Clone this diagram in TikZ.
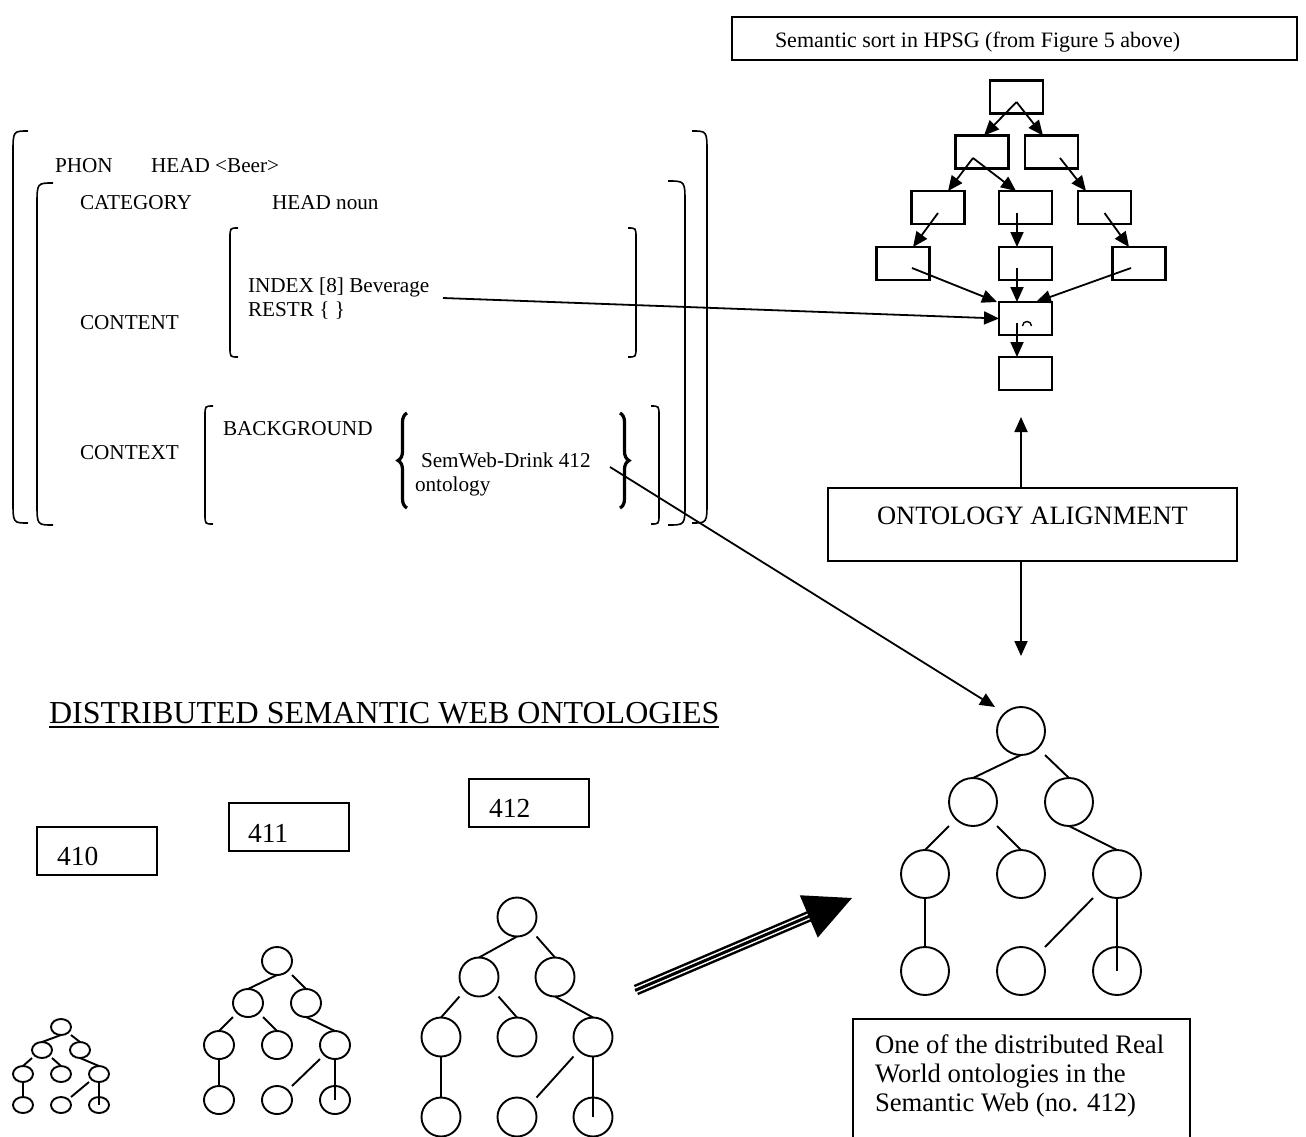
\documentclass[tikz,border=0pt]{standalone}
\usepackage{fontspec}
\setmainfont{Liberation Serif}
\usetikzlibrary{arrows.meta,calc,shapes.geometric,decorations.pathreplacing}

% tree: #1 prefix, #2 #3 root centre, #4 column step, #5 #6 #7 row offsets, #8 #9 radii
\newcommand{\ontree}[9]{%
 \begin{scope}[shift={(#2,#3)}]
  \tikzset{tsize/.style={tnode, minimum width={2*#8pt}, minimum height={2*#9pt}}}
  \node[tsize] (#1r) at (0,0) {};
  \node[tsize] (#1a) at (-#4,#5) {};
  \node[tsize] (#1b) at (#4,#5) {};
  \node[tsize] (#1c) at (-2*#4,#6) {};
  \node[tsize] (#1d) at (0,#6) {};
  \node[tsize] (#1e) at (2*#4,#6) {};
  \node[tsize] (#1f) at (-2*#4,#7) {};
  \node[tsize] (#1g) at (0,#7) {};
  \node[tsize] (#1h) at (2*#4,#7) {};
  \draw[tline] (#1r.south) -- (#1a.north);
  \draw[tline] ([xshift=#8pt]#1r.south) -- (#1b.north);
  \draw[tline] ([xshift=-#8pt]#1a.south) -- (#1c.north);
  \draw[tline] ([xshift=#8pt]#1a.south) -- (#1d.north);
  \draw[tline] (#1b.south) -- (#1e.north);
  \draw[tline] (#1c.south) -- (#1f.north);
  \draw[tline] ([xshift=-#8pt]#1e.south) -- ([xshift=#8pt]#1g.north);
  \draw[tline] (#1e.south) -- (#1h.center);
 \end{scope}}

% AVM brackets: #1 x, #2 top, #3 bottom, #4 hook width, #5 hook height
\newcommand{\avmL}[5]{\draw[brk] (#1+#4,#2) .. controls (#1,#2) .. (#1,#2+#5) -- (#1,#3-#5) .. controls (#1,#3) .. (#1+#4,#3);}
\newcommand{\avmR}[5]{\draw[brk] (#1-#4,#2) .. controls (#1,#2) .. (#1,#2+#5) -- (#1,#3-#5) .. controls (#1,#3) .. (#1-#4,#3);}

\begin{document}
\begin{tikzpicture}[x=1pt,y=-1pt,
  every node/.style={inner sep=0pt, outer sep=0pt},
  avm/.style={anchor=base west, font=\fontsize{21.2}{25}\selectfont},
  big/.style={anchor=base west, font=\fontsize{27.5}{31}\selectfont},
  desctext/.style={anchor=base west, font=\fontsize{26.7}{30}\selectfont},
  boxed/.style={draw, line width=2.1pt},
  sortbox/.style={draw, line width=2.1pt, minimum width=53pt, minimum height=33pt},
  arr/.style={line width=1.8pt, -{Triangle[length=15pt,width=13pt]}},
  tnode/.style={draw, ellipse, line width=1.9pt},
  tline/.style={line width=1.9pt},
  brk/.style={line width=1.6pt},
  curly/.style={line width=3.2pt, decorate, decoration={brace, amplitude=9pt}}]

\fill[white] (0,0) rectangle (1306,1136);
\path[use as bounding box, clip] (0,0) rectangle (1306,1136);

% ---------- title box ----------
\node[boxed, minimum width=565pt, minimum height=43pt] (titlebox) at (1014.5,38.5) {};
\node[anchor=base west, font=\fontsize{22}{26}\selectfont] (titletext) at (775,47) {Semantic sort in HPSG (from Figure 5 above)};

% ---------- sort hierarchy ----------
\node[sortbox] (T0) at (1016.5,97) {};
\node[sortbox] (T1a) at (982,152) {};
\node[sortbox] (T1b) at (1051.5,152) {};
\node[sortbox] (T2a) at (938,207.5) {};
\node[sortbox] (T2b) at (1025.5,207.5) {};
\node[sortbox] (T2c) at (1104.5,207.5) {};
\node[sortbox] (T3a) at (903,263.5) {};
\node[sortbox] (T3b) at (1025.5,263.5) {};
\node[sortbox] (T3c) at (1139,263.5) {};
\node[sortbox] (T4) at (1025.5,318.5) {};
\node[sortbox] (T5) at (1025.5,373.5) {};
\draw[line width=1.4pt] (1022.5,326) .. controls (1022.5,320) and (1031.5,320) .. (1031.5,326);

\draw[arr] ($(T0.center)+(0,5)$) -- ($(T1a.north)+(2,0)$);
\draw[arr] ($(T0.center)+(0,5)$) -- ($(T1b.north)+(-8.5,0)$);
\draw[arr] ($(T1a.center)+(-9,6)$) -- ($(T2a.north)+(10,0)$);
\draw[arr] ($(T1a.center)+(-9,6)$) -- ($(T2b.north)+(-9.5,0)$);
\draw[arr] ($(T1b.center)+(8.5,6)$) -- ($(T2c.north)+(-18.5,0)$);
\draw[arr] ($(T2a.center)+(0,5.5)$) -- ($(T3a.north)+(10,0)$);
\draw[arr] ($(T2b.center)+(-8.5,5.5)$) -- ($(T3b.north)+(-8.5,0)$);
\draw[arr] ($(T2c.center)+(0,5.5)$) -- ($(T3c.north)+(-10,0)$);
\draw[arr] ($(T3a.center)+(9,4.5)$) -- ($(T4.north)+(-28.5,0)$);
\draw[arr] ($(T3b.center)+(-8.5,4.5)$) -- ($(T4.north)+(-8.5,0)$);
\draw[arr] ($(T3c.center)+(-8,4.5)$) -- ($(T4.north)+(10.5,0)$);
\draw[arr] ($(T4.center)+(-8.5,4.5)$) -- ($(T5.north)+(-8.5,0)$);

% ---------- AVM ----------
\avmL{13}{131}{523}{15}{22}
\avmR{707}{131}{523}{15}{22}
\avmL{37}{183}{525}{16}{22}
\avmR{685}{181}{525}{17}{22}
\avmL{230}{228}{357}{8}{10}
\avmR{636}{228}{357}{8}{10}
\avmL{205}{406}{524}{8}{10}
\avmR{659}{406}{524}{8}{10}
\draw[curly] (407,508) -- (407,413);
\draw[curly] (620,413) -- (620,508);

\node[avm] (phon) at (55,172) {PHON};
\node[avm] (phonv) at (151,172) {HEAD <Beer>};
\node[avm] (cat) at (80,209) {CATEGORY};
\node[avm] (catv) at (272,209) {HEAD noun};
\node[avm] (index) at (248,292) {INDEX [8] Beverage};
\node[avm] (restr) at (248,316) {RESTR \{ \}};
\node[avm] (cont) at (80,329) {CONTENT};
\node[avm] (bg) at (223,435) {BACKGROUND};
\node[avm] (ctx) at (80,459) {CONTEXT};
\node[avm] (sw) at (421,467) {SemWeb-Drink 412};
\node[avm] (onto) at (415,491) {ontology};

\coordinate (idxend) at (443,298);
\coordinate (semend) at (610,467);

% ---------- alignment ----------
\node[boxed, minimum width=409pt, minimum height=73pt] (align) at (1032.5,524.5) {};
\node[anchor=base, font=\fontsize{26.5}{30}\selectfont] (aligntext) at (1032.5,524) {ONTOLOGY ALIGNMENT};
\coordinate (upend) at (1021,417);
\coordinate (downend) at (1021,656);
\draw[arr] ([xshift=-11.5pt]align.north) -- (upend);
\draw[arr] ([xshift=-11.5pt]align.south) -- (downend);

% ---------- heading and numbered boxes ----------
\node[anchor=base west, font=\fontsize{32}{36}\selectfont] (head) at (49,723) {DISTRIBUTED SEMANTIC WEB ONTOLOGIES};
\draw[line width=2.2pt] ([yshift=-4pt]head.base west) -- ([yshift=-4pt]head.base east);

\node[boxed, minimum width=120pt, minimum height=48pt] (b410) at (97,851) {};
\node[big] (n410) at (57,865) {410};
\node[boxed, minimum width=120pt, minimum height=48pt] (b411) at (289,827) {};
\node[big] (n411) at (248,842) {411};
\node[boxed, minimum width=120pt, minimum height=48pt] (b412) at (529,803) {};
\node[big] (n412) at (489,817) {412};

% ---------- trees ----------
\ontree{P}{61}{1027}{19}{23}{47}{78}{10}{8}
\ontree{Q}{277}{961}{29}{42}{84}{139}{15}{14}
\ontree{S}{517}{917}{38}{60}{120}{200}{19.5}{19.5}
\ontree{R}{1021}{731}{48}{71}{143}{240}{24}{24}

% ---------- long connectors ----------
\draw[arr] (idxend) -- (T4.west);
\draw[arr] (semend) -- ([xshift=-26pt]Rr.north);

% ---------- big arrow ----------
\coordinate (bigS) at (636,990);
\coordinate (bigT) at (852,898);
\coordinate (bigB) at ($(bigT)!47pt!(bigS)$);
\draw[line width=11pt] (bigS) -- ($(bigB)!-2pt!(bigS)$);
\draw[white, line width=6pt] ($(bigS)!-1pt!(bigB)$) -- ($(bigB)!-2pt!(bigS)$);
\draw[line width=3pt] ($(bigS)!-1pt!(bigB)$) -- ($(bigB)!-2pt!(bigS)$);
\fill ($(bigB)!23pt!90:(bigT)$) -- (bigT) -- ($(bigB)!23pt!-90:(bigT)$) -- cycle;

% ---------- description box ----------
\node[boxed, anchor=north west, minimum width=337pt, minimum height=140pt] (desc) at (853,1019) {};
\node[desctext] (d1) at (875,1053) {One of the distributed Real};
\node[desctext] (d2) at (875,1082) {World ontologies in the};
\node[desctext] (d3) at (875,1111) {Semantic Web (no. 412)};

\end{tikzpicture}
\end{document}
